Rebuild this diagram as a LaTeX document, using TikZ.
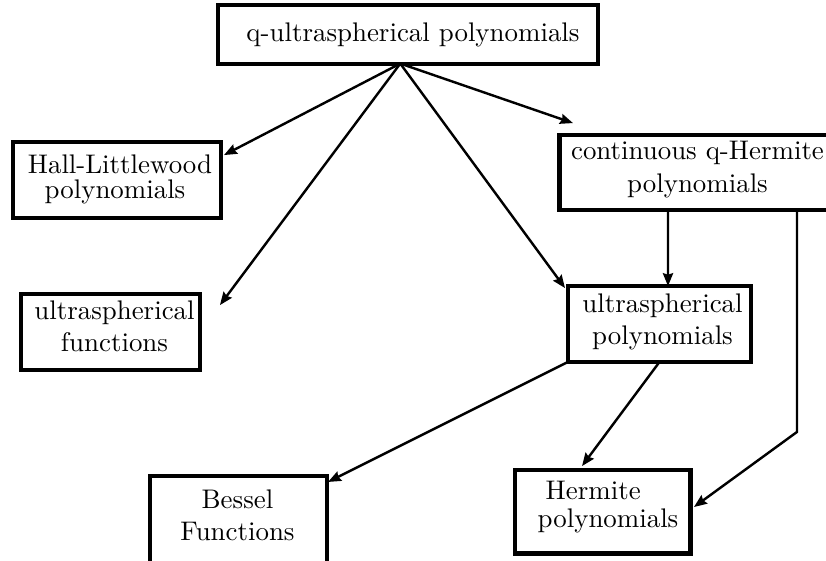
\documentclass[tikz,border=0pt]{standalone}
\usetikzlibrary{arrows.meta,calc}
\tikzset{
  family box/.style={
    draw=black, line width=1.5pt, inner sep=0pt, outer sep=0pt
  },
  box text/.style={
    align=center, inner sep=0pt, text=black
  },
  limit arrow/.style={
    draw=black, line width=0.9pt,
    -{Stealth[length=4.8pt,width=3.8pt,inset=0.6pt]}
  }
}

\begin{document}
\begin{tikzpicture}[x=0.3717pt,y=-0.3717pt]
  % Frame of the scan in pixels; two boxes run off its right and bottom edges.
  \useasboundingbox (0,0) rectangle (826,560);
  \clip (0,0) rectangle (826,560);

  % Families, top to bottom; the text sits a little off centre in most boxes.
  \node[family box,minimum width=141.1pt,minimum height=21.6pt,
        label={[box text,shift={(4.75,0)}]center:q-ultraspherical polynomials}]
        (qultra) at (408.25,34.5) {};
  \node[family box,minimum width=77.3pt,minimum height=28.2pt,
        label={[box text,shift={(3,-1)}]center:{Hall-Littlewood\\[-2.7pt]polynomials\hspace*{3.7pt}}}]
        (hall) at (117,180) {};
  \node[family box,minimum width=102.6pt,minimum height=28.2pt,
        label={[box text,shift={(0,-3)}]center:{continuous q-Hermite\\polynomials}}]
        (cherm) at (697.5,172.5) {};
  \node[family box,minimum width=66.5pt,minimum height=28.2pt,
        label={[box text,shift={(4,-5.5)}]center:{ultraspherical\\functions}}]
        (ufunc) at (110.5,332) {};
  \node[family box,minimum width=68.0pt,minimum height=28.2pt,
        label={[box text,shift={(3,-2)}]center:{ultraspherical\\polynomials}}]
        (upoly) at (659.5,324) {};
  \node[family box,minimum width=65.8pt,minimum height=38.7pt,
        label={[box text,shift={(-1,-13)}]center:{Bessel\\Functions}}]
        (bessel) at (238.5,528) {};
  \node[family box,minimum width=65.4pt,minimum height=31.2pt,
        label={[box text,shift={(5.5,-4)}]center:{Hermite\hspace*{11pt}\\[-1.6pt]polynomials}}]
        (hermite) at (602.5,511.5) {};

  % All four limits out of the top family leave from one point on its lower edge.
  \coordinate (hub) at ($(qultra.south)+(-8,0)$);
  \draw[limit arrow] (hub) -- ($(hall.north east)+(3,13)$);
  \draw[limit arrow] (hub) -- ($(ufunc.north east)+(20,11)$);
  \draw[limit arrow] (hub) -- ($(upoly.north west)+(-3,2)$);
  \draw[limit arrow] (hub) -- ($(cherm.north west)+(13.5,-11.5)$);

  \draw[limit arrow] ($(cherm.south west)+(108.5,0)$) -- ($(upoly.north)+(8.5,0)$);
  \draw[limit arrow] (upoly.south west) -- ($(bessel.north east)+(1,6)$);
  \draw[limit arrow] (upoly.south) -- ($(hermite.north)+(-20.5,-3.5)$);
  \draw[limit arrow] ($(cherm.south east)+(-38.5,0)$) -- ++(0,221.5)
    -- ($(hermite.east)+(3.5,-4.5)$);
\end{tikzpicture}
\end{document}
